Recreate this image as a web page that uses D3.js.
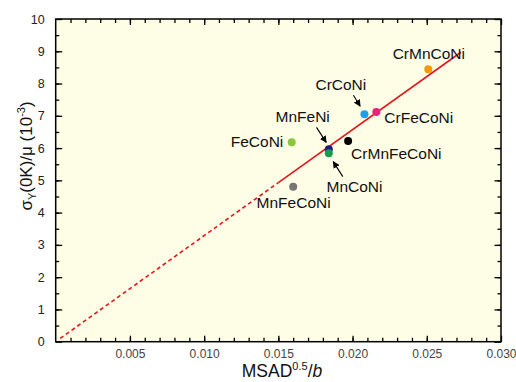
<!DOCTYPE html>
<html>
<head>
<meta charset="utf-8">
<script src="https://cdn.jsdelivr.net/npm/d3@7"></script>
<style>
  body { margin: 0; background: #fff; }
  text { font-family: "Liberation Sans", Arial, sans-serif; }
</style>
</head>
<body>
<div class="plot"></div>
<script>
// alloys and their values
const alloys   = ["CrMnCoNi", "CrCoNi", "CrFeCoNi", "FeCoNi", "MnFeNi", "MnCoNi", "CrMnFeCoNi", "MnFeCoNi"];
const msad     = [0.0251, 0.0208, 0.0216, 0.0159, 0.0184, 0.0184, 0.0197, 0.0160];
const strength = [8.44, 7.05, 7.12, 6.18, 5.96, 5.84, 6.22, 4.80];
const colors   = ["#f39a0c", "#1fa0e2", "#e8237a", "#8cc63e", "#1d1d80", "#189a4f", "#000000", "#767676"];

// fitted line: dashed part then solid part
const fitX = [0.0003, 0.0150, 0.0273];
const fitY = [0.10, 4.93, 8.97];

const xMajor = [0.005, 0.010, 0.015, 0.020, 0.025, 0.030];
const yMajor = [0, 1, 2, 3, 4, 5, 6, 7, 8, 9, 10];

// label offsets (px) from each point, and arrows
const labelPos = {
  "CrMnCoNi":   {dx: -35.6, dy: -10.3},
  "CrCoNi":     {dx: -49,   dy: -24},
  "CrFeCoNi":   {dx: 8,     dy: 10.7},
  "FeCoNi":     {dx: -8.4,  dy: 4.4, anchor: "end"},
  "MnFeNi":     {dx: -53.3, dy: -27.6},
  "MnCoNi":     {dx: -2.3,  dy: 38.4},
  "CrMnFeCoNi": {dx: 3,     dy: 18},
  "MnFeCoNi":   {dx: -36.6, dy: 21}
};
const arrows = [
  {name: "CrCoNi", x1: -11,  y1: -19,  x2: -4.3, y2: -8},
  {name: "MnFeNi", x1: -12.3, y1: -22, x2: -2.6, y2: -7},
  {name: "MnCoNi", x1: 14,   y1: 23.4, x2: 4.4,  y2: 8.4}
];

document.addEventListener('DOMContentLoaded', () => {
  const width = 516, height = 382;
  const left = 55.7, right = 501, top = 19, bottom = 341.7;

  const xScale = d3.scaleLinear().domain([0, 0.030]).range([left, right]);
  const yScale = d3.scaleLinear().domain([0, 10]).range([bottom, top]);

  const svg = d3.select('.plot').append('svg')
    .attr('width', width)
    .attr('height', height);

  svg.append('defs').append('marker')
    .attr('id', 'head')
    .attr('viewBox', '0 0 10 10')
    .attr('refX', 9).attr('refY', 5)
    .attr('markerWidth', 7).attr('markerHeight', 7)
    .attr('markerUnits', 'userSpaceOnUse')
    .attr('orient', 'auto')
    .append('path')
    .attr('d', 'M0,0 L10,5 L0,10 Z')
    .attr('fill', '#000');

  //Background of plot area
  svg.append('rect')
    .attr('x', left).attr('y', top)
    .attr('width', right - left).attr('height', bottom - top)
    .attr('fill', '#fefee6');

  const minorX = d3.range(1, 30).map(d => d / 1000);
  const minorY = d3.range(1, 20).map(d => d / 2);

  function styleAxis(g) {
    g.select('.domain').remove();
    g.selectAll('line').attr('stroke', '#000').attr('stroke-width', 1.3);
  }

  //Bottom axis
  svg.append('g').attr('transform', `translate(0,${bottom})`)
    .call(d3.axisBottom(xScale).tickValues(minorX).tickFormat('').tickSize(-4))
    .call(styleAxis);
  svg.append('g').attr('transform', `translate(0,${bottom})`)
    .call(d3.axisBottom(xScale).tickValues(xMajor).tickFormat(d3.format('.3f')).tickSize(-6).tickPadding(8))
    .call(styleAxis)
    .call(g => g.selectAll('text').attr('font-size', 12).attr('fill', '#444')
      .attr('font-family', '"Liberation Sans", Arial, sans-serif'));

  //Top axis
  svg.append('g').attr('transform', `translate(0,${top})`)
    .call(d3.axisTop(xScale).tickValues(minorX).tickFormat('').tickSize(-4))
    .call(styleAxis);
  svg.append('g').attr('transform', `translate(0,${top})`)
    .call(d3.axisTop(xScale).tickValues(xMajor).tickFormat('').tickSize(-6))
    .call(styleAxis);

  //Left axis
  svg.append('g').attr('transform', `translate(${left},0)`)
    .call(d3.axisLeft(yScale).tickValues(minorY).tickFormat('').tickSize(-3.5))
    .call(styleAxis);
  svg.append('g').attr('transform', `translate(${left},0)`)
    .call(d3.axisLeft(yScale).tickValues(yMajor).tickFormat(d3.format('d')).tickSize(-6.5).tickPadding(11))
    .call(styleAxis)
    .call(g => g.selectAll('text').attr('font-size', 12.5).attr('fill', '#222')
      .attr('font-family', '"Liberation Sans", Arial, sans-serif'));

  //Right axis
  svg.append('g').attr('transform', `translate(${right},0)`)
    .call(d3.axisRight(yScale).tickValues(minorY).tickFormat('').tickSize(-3.5))
    .call(styleAxis);
  svg.append('g').attr('transform', `translate(${right},0)`)
    .call(d3.axisRight(yScale).tickValues(yMajor).tickFormat('').tickSize(-6.5))
    .call(styleAxis);

  //Frame
  svg.append('rect')
    .attr('x', left).attr('y', top)
    .attr('width', right - left).attr('height', bottom - top)
    .attr('fill', 'none')
    .attr('stroke', '#000')
    .attr('stroke-width', 1.5);

  //Fit line
  const fit = fitX.map((x, i) => ({x: x, y: fitY[i]}));
  const line = d3.line().x(d => xScale(d.x)).y(d => yScale(d.y));
  svg.append('path')
    .attr('d', line(fit.slice(0, 2)))
    .attr('fill', 'none')
    .attr('stroke', '#e8141c')
    .attr('stroke-width', 1.6)
    .attr('stroke-dasharray', '4,3');
  svg.append('path')
    .attr('d', line(fit.slice(1)))
    .attr('fill', 'none')
    .attr('stroke', '#e8141c')
    .attr('stroke-width', 1.6);

  const data = alloys.map((name, i) => ({name: name, x: msad[i], y: strength[i], color: colors[i]}));

  //Points
  svg.selectAll('.pt')
    .data(data)
    .enter()
    .append('circle')
    .attr('class', 'pt')
    .attr('cx', d => xScale(d.x))
    .attr('cy', d => yScale(d.y))
    .attr('r', 4)
    .attr('fill', d => d.color);

  //Labels
  svg.selectAll('.lbl')
    .data(data)
    .enter()
    .append('text')
    .attr('class', 'lbl')
    .attr('x', d => xScale(d.x) + labelPos[d.name].dx)
    .attr('y', d => yScale(d.y) + labelPos[d.name].dy)
    .attr('text-anchor', d => labelPos[d.name].anchor || 'start')
    .attr('font-size', 15.5)
    .attr('fill', '#111')
    .text(d => d.name);

  //Arrows
  const byName = {};
  data.forEach(d => { byName[d.name] = d; });
  svg.selectAll('.arrow')
    .data(arrows)
    .enter()
    .append('line')
    .attr('class', 'arrow')
    .attr('x1', d => xScale(byName[d.name].x) + d.x1)
    .attr('y1', d => yScale(byName[d.name].y) + d.y1)
    .attr('x2', d => xScale(byName[d.name].x) + d.x2)
    .attr('y2', d => yScale(byName[d.name].y) + d.y2)
    .attr('stroke', '#000')
    .attr('stroke-width', 1.1)
    .attr('marker-end', 'url(#head)');

  //Axis titles
  const xt = svg.append('text')
    .attr('x', 282).attr('y', 377)
    .attr('text-anchor', 'middle')
    .attr('font-size', 17.5)
    .attr('fill', '#111');
  xt.append('tspan').text('MSAD');
  xt.append('tspan').attr('font-size', 11).attr('dy', -7).text('0.5');
  xt.append('tspan').attr('dy', 7).text('/');
  xt.append('tspan').attr('font-style', 'italic').text('b');

  const yt = svg.append('text')
    .attr('transform', 'rotate(-90)')
    .attr('x', -156).attr('y', 32)
    .attr('text-anchor', 'middle')
    .attr('font-size', 17)
    .attr('fill', '#111');
  yt.append('tspan').text('σ');
  yt.append('tspan').attr('font-size', 11).attr('dy', 4).text('Y');
  yt.append('tspan').attr('dy', -4).text('(0K)/μ (10');
  yt.append('tspan').attr('font-size', 11).attr('dy', -7).text('-3');
  yt.append('tspan').attr('dy', 7).text(')');
});
</script>
</body>
</html>
